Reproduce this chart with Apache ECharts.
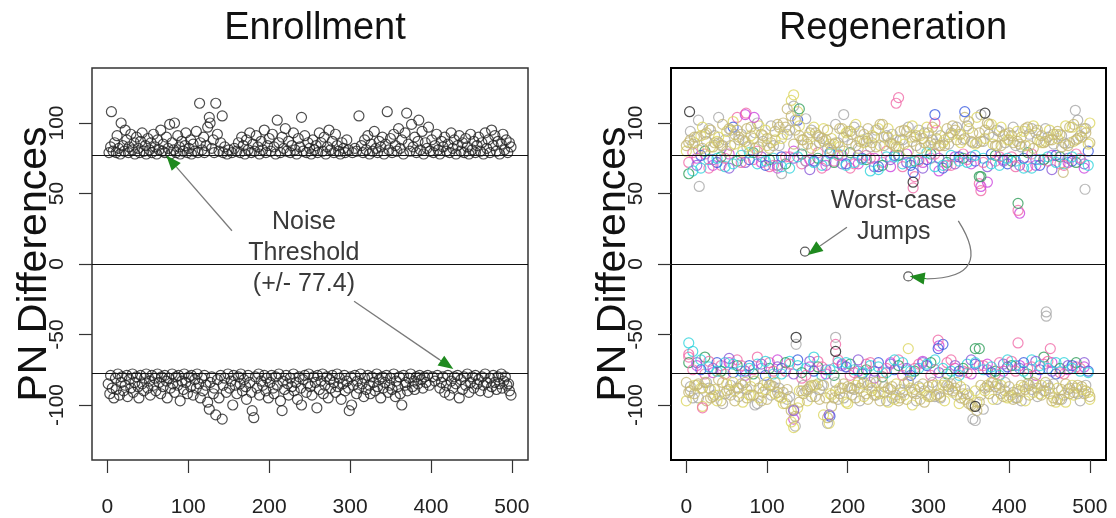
<!DOCTYPE html>
<html>
<head>
<meta charset="utf-8">
<script src="https://cdn.jsdelivr.net/npm/echarts@6/dist/echarts.min.js"></script>
<style>
  html, body { margin: 0; padding: 0; background: #fff; }
  #chart { width: 1116px; height: 518px; }
</style>
</head>
<body>
<div id="chart"></div>
<script>
// tick labels
const xTicks = [0, 100, 200, 300, 400, 500]
const yTicks = [-100, -50, 0, 50, 100]
const threshold = 77.4

// Enrollment: [index, PN difference]
const enrollUpper = [
  [2,79],[4,83],[5,108],[7,80],[9,86],[11,79],[12,91],[14,82],[16,78],[17,100],[19,84],[21,80],[22,95],[24,88],[26,79],[27,83],[29,92],[31,81],[33,86],[34,78],[36,90],[38,82],[40,79],[41,87],[43,93],[45,80],[47,84],[48,78],[50,89],
  [52,81],[54,86],[55,79],[57,92],[59,83],[61,78],[62,88],[64,81],[66,95],[68,80],[69,85],[71,79],[73,90],[75,82],[77,99],[78,78],[80,86],[82,81],[83,100],[85,79],[87,91],[89,83],[90,78],[92,87],[94,80],[96,84],[97,93],[99,79],
  [101,82],[103,88],[104,78],[106,85],[108,80],[110,94],[112,79],[114,114],[115,86],[117,81],[119,90],[120,79],[122,84],[124,97],[126,104],[127,100],[129,82],[131,88],[132,79],[134,114],[136,92],[138,80],[140,86],[142,105],[143,79],[145,83],[148,78],[150,81],
  [154,79],[157,82],[160,80],[162,86],[164,79],[166,90],[168,84],[170,78],[172,88],[174,81],[176,93],[178,79],[180,85],[182,80],[184,91],[186,83],[188,78],[190,87],[192,81],[194,95],[196,79],[198,84],[200,89],
  [202,80],[204,92],[206,83],[208,78],[210,102],[212,86],[214,79],[216,90],[218,82],[220,96],[222,80],[224,87],[226,79],[228,84],[230,93],[232,81],[234,78],[236,89],[238,83],[240,104],[242,80],[244,91],[246,79],[248,86],[250,82],
  [252,78],[254,88],[256,81],[258,84],[260,79],[262,93],[264,86],[266,80],[268,90],[270,78],[272,83],[274,95],[276,81],[278,87],[280,79],[282,92],[284,84],[286,80],[288,78],[290,86],[292,82],[294,79],[296,88],[298,81],
  [303,79],[306,82],[308,80],[311,105],[314,84],[316,79],[318,88],[320,81],[322,91],[324,78],[326,85],[328,80],[330,94],[332,82],[334,79],[336,87],[338,83],[340,90],[342,78],[344,85],[346,108],[348,81],[350,89],
  [352,79],[354,92],[356,84],[358,80],[360,96],[362,82],[364,88],[366,78],[368,93],[370,107],[372,85],[374,80],[376,99],[378,83],[380,90],[382,79],[384,87],[385,102],[387,81],[389,94],[391,78],[393,86],[395,82],[397,97],[399,80],
  [401,88],[403,79],[405,84],[407,92],[409,81],[411,78],[413,87],[415,83],[417,90],[419,80],[421,85],[423,79],[425,93],[427,82],[429,88],[431,78],[433,84],[435,91],[437,80],[439,86],[441,79],[443,89],[445,83],[447,78],[449,92],
  [451,81],[453,87],[455,79],[457,84],[459,90],[461,80],[463,86],[465,78],[467,93],[469,82],[471,88],[473,79],[475,95],[477,84],[479,91],[481,80],[483,87],[485,78],[487,85],[489,92],[491,81],[493,88],[495,79],[497,86],[499,83]
]
const enrollLower = [
  [1,-85],[3,-92],[4,-79],[6,-88],[8,-95],[10,-81],[11,-89],[13,-78],[15,-93],[17,-84],[18,-80],[20,-90],[22,-86],[24,-79],[25,-94],[27,-82],[29,-88],[31,-78],[32,-91],[34,-84],[36,-80],[38,-87],[39,-95],[41,-79],[43,-85],[45,-90],[46,-81],[48,-78],[50,-88],
  [52,-83],[53,-93],[55,-79],[57,-86],[59,-81],[60,-90],[62,-78],[64,-84],[66,-92],[67,-80],[69,-87],[71,-79],[73,-83],[74,-95],[76,-81],[78,-88],[80,-78],[81,-85],[83,-91],[85,-80],[87,-86],[88,-79],[90,-97],[92,-83],[94,-89],[95,-78],[97,-84],[99,-92],
  [101,-80],[103,-87],[104,-79],[106,-93],[108,-82],[110,-88],[111,-78],[113,-85],[115,-95],[117,-81],[118,-90],[120,-79],[122,-86],[124,-98],[126,-103],[127,-84],[129,-80],[131,-92],[132,-88],[134,-107],[136,-82],[138,-95],[140,-79],[142,-110],[143,-86],[145,-81],[147,-91],[149,-78],
  [151,-88],[153,-83],[155,-100],[156,-79],[158,-86],[160,-92],[162,-80],[164,-85],[165,-78],[167,-90],[169,-82],[171,-87],[172,-96],[174,-79],[176,-84],[178,-91],[179,-104],[181,-109],[183,-80],[185,-88],[187,-78],[188,-93],[190,-83],[192,-86],[194,-79],[196,-90],[197,-81],[199,-95],
  [201,-84],[203,-79],[205,-88],[206,-92],[208,-80],[210,-86],[212,-78],[214,-97],[216,-104],[217,-83],[219,-89],[221,-79],[223,-85],[224,-93],[226,-81],[228,-87],[230,-78],[231,-90],[233,-84],[235,-96],[237,-80],[239,-88],[240,-100],[242,-82],[244,-79],[246,-91],[248,-85],[249,-78],
  [251,-87],[253,-93],[255,-80],[257,-84],[259,-102],[260,-79],[262,-89],[264,-83],[266,-78],[267,-92],[269,-86],[271,-80],[273,-95],[275,-82],[276,-88],[278,-79],[280,-84],[282,-91],[284,-78],[285,-87],[287,-81],[289,-96],[291,-85],[293,-79],[294,-90],[296,-83],[298,-88],
  [299,-104],[301,-80],[302,-100],[304,-86],[306,-79],[308,-92],[309,-83],[311,-88],[313,-78],[315,-85],[317,-94],[318,-81],[320,-89],[322,-79],[324,-86],[325,-92],[327,-80],[329,-84],[331,-90],[333,-78],[334,-87],[336,-82],[338,-95],[340,-80],[341,-88],[343,-84],[345,-79],[347,-91],[349,-86],[350,-81],
  [352,-89],[354,-78],[356,-94],[357,-83],[359,-87],[361,-80],[362,-92],[364,-100],[366,-79],[368,-86],[369,-84],[371,-90],[373,-81],[375,-78],[377,-87],[379,-83],[380,-89],[382,-80],[384,-85],[386,-79],[388,-82],[390,-88],[392,-80],[394,-84],[396,-79],[398,-86],
  [402,-80],[405,-83],[408,-79],[411,-88],[413,-84],[415,-80],[417,-91],[419,-86],[421,-79],[423,-93],[425,-83],[427,-88],[429,-80],[431,-85],[433,-79],[435,-95],[437,-82],[439,-89],[441,-80],[443,-86],[445,-78],[447,-91],[449,-84],
  [451,-80],[453,-88],[455,-79],[457,-85],[459,-82],[461,-90],[463,-80],[465,-86],[467,-78],[469,-84],[471,-91],[473,-81],[475,-87],[477,-79],[479,-84],[481,-89],[483,-80],[485,-85],[487,-78],[488,-88],[490,-83],[492,-80],[494,-86],[496,-85],[497,-90],[499,-93]
]

// Regeneration: index grids shared by the regeneration runs
const regenXA = [0,10,20,30,40,50,60,70,80,90,100,110,120,130,140,150,160,170,180,190,200,210,220,230,240,250,260,270,280,290,300,310,320,330,340,350,360,370,380,390,400,410,420,430,440,450,460,470,480,490,500]
const regenXB = [5,15,25,35,45,55,65,75,85,95,105,115,125,135,145,155,165,175,185,195,205,215,225,235,245,255,265,275,285,295,305,315,325,335,345,355,365,375,385,395,405,415,425,435,445,455,465,475,485,495]
const regenXC = [3,23,43,63,83,103,123,143,163,183,203,223,243,263,283,303,323,343,363,383,403,423,443,463,483]
const regenXD = [13,33,53,73,93,113,133,153,173,193,213,233,253,273,293,313,333,353,373,393,413,433,453,473,493]
const regenXE = [8,28,48,68,88,108,128,148,168,188,208,228,248,268,288,308,328,348,368,388,408,428,448,468,488]
const regenXF = [18,38,58,78,98,118,138,158,178,198,218,238,258,278,298,318,338,358,378,398,418,438,458,478,498]

// upper band runs
const tanUpA = [84,90,82,95,86,80,92,88,97,83,89,94,100,105,91,85,93,87,81,96,88,84,92,86,99,90,83,95,87,82,93,89,84,98,92,101,86,95,90,84,93,87,96,82,91,88,94,85,99,90,86]
const tanUpB = [88,81,93,86,99,84,90,96,82,91,86,97,110,95,88,82,90,95,86,80,92,87,96,83,90,85,94,80,91,86,97,84,90,88,104,93,87,99,84,92,86,90,84,95,87,92,83,97,89,93]
const yellowUpA = [80,86,97,83,90,94,85,80,91,98,84,88,92,116,98,90,84,96,89,83,94,99,86,91,84,96,88,85,98,91,84,95,88,92,86,96,104,89,85,97,88,94,84,98,86,95,89,98,87,94,100]
const greyUpB = [94,102,87,91,84,95,88,83,93,87,98,84,92,102,84,95,86,82,99,90,85,94,89,95,84,92,88,97,84,93,88,91,85,97,89,86,106,92,95,86,97,83,92,88,96,85,91,86,102,96]
const tanUpC = [86,92,84,95,89,82,97,88,91,85,94,87,99,83,90,86,96,88,93,84,91,97,86,92,88]
const tanUpD = [90,83,96,87,92,99,85,93,88,96,82,90,86,94,89,84,95,87,100,91,85,93,88,84,96]
const greyUpE = [85,96,88,92,100,84,95,103,89,86,97,83,91,88,95,85,93,98,87,94,84,96,90,86,91]
const yellowUpF = [91,87,101,84,95,89,108,97,85,93,88,96,84,90,97,86,92,85,99,88,94,87,92,97,85]
const pinkUp = [72,78,70,104,74,69,76,71,79,73,68,77,72,118,62,75,70,78,57,73,76,69,74,71,78]
const magentaUp = [75,70,78,106,72,68,80,74,70,77,71,75,69,78,72,66,76,71,58,74,36,70,77,72,68]
const cyanUp = [66,74,69,77,71,75,68,73,70,78,72,66,76,71,74,69,77,72,75,70,73,68,76,71,74]
const blueUp = [77,72,97,74,70,76,102,73,79,71,75,69,77,70,74,68,76,73,78,71,75,70,77,73,80]
const greenUp = [64,80,76,73,79,74,71,78,75,72,79,74,70,77,73,78,72,75,62,77,73,79,74,76,72]
const purpleUp = [70,74,68,72,76,70,75,67,73,71,77,69,74,72,68,75,71,76,69,73,70,74,67,75,71]
const pinkUp2 = [79,68,75,72,80,70,76,73,68,77,71,75,80,69,73,78,70,74,72,76,69,78,73,70,75]
const cyanUp2 = [68,75,71,79,73,69,76,72,78,70,74,67,76,72,79,70,73,77,71,75,68,74,72,76,70]

// lower band runs
const tanLoA = [-84,-92,-88,-95,-82,-90,-97,-86,-93,-88,-96,-84,-91,-104,-98,-89,-94,-86,-101,-92,-87,-95,-84,-90,-97,-88,-93,-85,-91,-96,-87,-93,-84,-90,-95,-99,-104,-88,-84,-92,-87,-95,-89,-84,-93,-88,-96,-85,-91,-87,-94]
const tanLoB = [-90,-85,-97,-89,-84,-93,-88,-95,-83,-91,-86,-94,-89,-108,-92,-86,-96,-109,-90,-85,-93,-88,-96,-84,-91,-87,-95,-83,-92,-98,-86,-94,-89,-84,-96,-101,-86,-92,-85,-90,-96,-86,-93,-88,-84,-95,-89,-92,-86,-90]
const yellowLoA = [-97,-86,-101,-89,-93,-85,-90,-98,-87,-95,-84,-92,-99,-112,-90,-97,-86,-107,-93,-88,-99,-86,-94,-88,-92,-98,-85,-93,-100,-88,-94,-86,-97,-91,-87,-93,-98,-90,-96,-86,-94,-89,-97,-91,-86,-92,-88,-98,-93,-89,-96]
const greyLoB = [-87,-95,-84,-93,-99,-86,-94,-89,-100,-86,-93,-88,-96,-115,-86,-94,-89,-113,-84,-95,-88,-97,-86,-93,-87,-95,-89,-84,-97,-90,-84,-95,-87,-93,-89,-110,-93,-87,-96,-84,-91,-97,-86,-94,-90,-85,-96,-88,-92,-86]
const tanLoC = [-91,-84,-97,-88,-93,-86,-99,-90,-85,-95,-88,-92,-84,-97,-89,-94,-86,-92,-98,-87,-93,-85,-90,-96,-88]
const tanLoD = [-86,-94,-89,-84,-97,-91,-103,-87,-95,-88,-84,-93,-89,-96,-85,-92,-88,-100,-86,-94,-90,-85,-97,-89,-92]
const greyLoE = [-95,-88,-92,-85,-99,-87,-94,-90,-86,-96,-89,-84,-97,-91,-87,-94,-85,-92,-103,-88,-95,-89,-86,-93,-97]
const yellowLoF = [-88,-97,-84,-93,-89,-95,-102,-86,-92,-98,-85,-91,-96,-88,-93,-86,-99,-90,-84,-95,-87,-92,-98,-86,-91]
const pinkLo = [-64,-78,-72,-68,-75,-70,-76,-81,-69,-74,-79,-71,-77,-68,-74,-79,-70,-76,-72,-78,-69,-74,-71,-77,-73]
const magentaLo = [-72,-77,-70,-79,-74,-68,-110,-73,-78,-71,-76,-81,-70,-75,-69,-58,-74,-78,-71,-76,-72,-79,-70,-75,-73]
const cyanLo = [-62,-73,-70,-76,-71,-78,-69,-74,-79,-70,-75,-72,-77,-70,-74,-68,-76,-71,-75,-79,-72,-68,-74,-70,-76]
const blueLo = [-75,-70,-77,-72,-79,-74,-68,-76,-108,-73,-78,-70,-75,-79,-72,-57,-76,-71,-77,-73,-70,-75,-78,-72,-76]
const greenLo = [-70,-66,-76,-72,-78,-74,-70,-77,-73,-79,-71,-75,-80,-72,-76,-70,-78,-74,-60,-76,-72,-78,-66,-74,-70]
const purpleLo = [-70,-74,-67,-76,-71,-73,-78,-69,-75,-72,-68,-76,-71,-74,-70,-77,-72,-68,-75,-71,-74,-69,-76,-72,-70]
const pinkLo2 = [-75,-69,-78,-72,-66,-76,-71,-79,-73,-68,-77,-70,-74,-79,-71,-75,-68,-77,-72,-70,-76,-73,-69,-78,-74]
const cyanLo2 = [-68,-76,-71,-74,-69,-78,-72,-66,-75,-70,-77,-73,-68,-76,-71,-74,-79,-70,-73,-68,-76,-72,-70,-74,-77]

// single runs that stand out: [index, value, run colour]
const regenOutliers = [
  [4,108,'black'],[16,55,'grey'],[118,64,'grey'],[133,120,'yellow'],[133,112,'grey'],[260,114,'pink'],
  [281,65,'blue'],[281,58,'black'],[281,54,'pink'],[308,106,'blue'],[308,100,'pink'],[365,62,'green'],
  [365,55,'magenta'],[365,52,'pink'],[411,43,'green'],[411,38,'pink'],[494,53,'grey'],[467,65,'tan'],
  [482,109,'grey'],[370,107,'black'],[345,108,'blue'],[74,107,'pink'],[84,104,'magenta'],[40,104,'grey'],
  [140,110,'green'],[195,106,'grey'],
  [136,-52,'black'],[136,-57,'grey'],[185,-52,'grey'],[185,-57,'pink'],[185,-62,'black'],[446,-34,'grey'],
  [446,-37,'grey'],[451,-60,'pink'],[411,-56,'pink'],[312,-54,'pink'],[312,-60,'blue'],[358,-60,'green'],
  [275,-60,'yellow'],[358,-101,'black'],[358,-111,'grey'],[133,-104,'purple'],[133,-116,'yellow'],
  [177,-107,'purple'],[177,-113,'yellow'],[20,-102,'pink'],[3,-56,'cyan'],[3,-66,'pink']
]
const worstJumps = [[147,8.8],[275,-8.8]]

const runColors = {
  tan: '#c4b674', yellow: '#dcd660', grey: '#a8a8a8', pink: '#f06aa8', magenta: '#cc44dd',
  cyan: '#2fd3dc', blue: '#3a5ae0', green: '#2f9e5a', black: '#222222', purple: '#8a5ad8'
}

const font = "'Liberation Sans', Arial, sans-serif"

function zip(xs, ys) {
  return xs.map((x, i) => [x, ys[i]])
}

function circles(gridIndex, data, color, size) {
  return {
    type: 'scatter',
    xAxisIndex: gridIndex,
    yAxisIndex: gridIndex,
    data: data,
    symbol: 'circle',
    symbolSize: size || 10,
    itemStyle: { color: 'transparent', borderColor: color, borderWidth: 1.2 },
    silent: true,
    z: 2
  }
}

// straight reference lines and arrow heads, in data coordinates
function lines(gridIndex, data, style, symbols) {
  return {
    type: 'scatter',
    xAxisIndex: gridIndex,
    yAxisIndex: gridIndex,
    data: [],
    silent: true,
    z: 5,
    markLine: {
      silent: true,
      animation: false,
      symbol: symbols || ['none', 'none'],
      symbolSize: [12, 15],
      label: { show: false },
      lineStyle: Object.assign({ type: 'solid' }, style),
      data: data
    }
  }
}

// curved arrow shaft
function curve(gridIndex, from, to, curveness) {
  return {
    type: 'lines',
    coordinateSystem: 'cartesian2d',
    xAxisIndex: gridIndex,
    yAxisIndex: gridIndex,
    silent: true,
    z: 5,
    symbol: 'none',
    lineStyle: { color: '#7a7a7a', width: 1.3, opacity: 1, curveness: curveness },
    data: [{ coords: [from, to] }]
  }
}

function textLabel(gridIndex, coord, text) {
  return {
    type: 'scatter',
    xAxisIndex: gridIndex,
    yAxisIndex: gridIndex,
    data: [],
    silent: true,
    z: 6,
    markPoint: {
      silent: true,
      animation: false,
      symbol: 'circle',
      symbolSize: 1,
      itemStyle: { color: 'transparent' },
      label: {
        show: true, position: 'inside', color: '#3a3a3a', fontSize: 25, lineHeight: 31,
        fontFamily: font, align: 'center', verticalAlign: 'middle', formatter: text
      },
      data: [{ coord: coord }]
    }
  }
}

const shaft = { color: '#7a7a7a', width: 1.3 }
const head = { color: '#1f8a1f', width: 1 }
const thresholdLines = [{ yAxis: threshold }, { yAxis: 0 }, { yAxis: -threshold }]

const series = [
  circles(0, enrollUpper, '#222'),
  circles(0, enrollLower, '#222'),
  lines(0, thresholdLines, { color: '#111', width: 1.2 }),
  lines(0, [
    [{ coord: [154, 23.6] }, { coord: [86, 68.3] }],
    [{ coord: [305, -26.4] }, { coord: [411, -68.0] }]
  ], shaft),
  lines(0, [
    [{ coord: [86, 68.3] }, { coord: [79, 72.9] }],
    [{ coord: [411, -68.0] }, { coord: [420, -71.5] }]
  ], head, ['none', 'triangle']),
  textLabel(0, [243, 8], 'Noise\nThreshold\n(+/- 77.4)'),

  circles(1, zip(regenXC, pinkUp), runColors.pink),
  circles(1, zip(regenXD, magentaUp), runColors.magenta),
  circles(1, zip(regenXE, cyanUp), runColors.cyan),
  circles(1, zip(regenXF, blueUp), runColors.blue),
  circles(1, zip(regenXC, greenUp), runColors.green),
  circles(1, zip(regenXD, purpleUp), runColors.purple),
  circles(1, zip(regenXE, pinkUp2), runColors.pink),
  circles(1, zip(regenXF, cyanUp2), runColors.cyan),
  circles(1, zip(regenXC, pinkLo), runColors.pink),
  circles(1, zip(regenXD, magentaLo), runColors.magenta),
  circles(1, zip(regenXE, cyanLo), runColors.cyan),
  circles(1, zip(regenXF, blueLo), runColors.blue),
  circles(1, zip(regenXC, greenLo), runColors.green),
  circles(1, zip(regenXD, purpleLo), runColors.purple),
  circles(1, zip(regenXE, pinkLo2), runColors.pink),
  circles(1, zip(regenXF, cyanLo2), runColors.cyan),
  circles(1, zip(regenXB, greyUpB), runColors.grey),
  circles(1, zip(regenXE, greyUpE), runColors.grey),
  circles(1, zip(regenXB, greyLoB), runColors.grey),
  circles(1, zip(regenXE, greyLoE), runColors.grey),
  circles(1, zip(regenXA, yellowUpA), runColors.yellow),
  circles(1, zip(regenXF, yellowUpF), runColors.yellow),
  circles(1, zip(regenXA, yellowLoA), runColors.yellow),
  circles(1, zip(regenXF, yellowLoF), runColors.yellow),
  circles(1, zip(regenXA, tanUpA), runColors.tan),
  circles(1, zip(regenXB, tanUpB), runColors.tan),
  circles(1, zip(regenXC, tanUpC), runColors.tan),
  circles(1, zip(regenXD, tanUpD), runColors.tan),
  circles(1, zip(regenXA, tanLoA), runColors.tan),
  circles(1, zip(regenXB, tanLoB), runColors.tan),
  circles(1, zip(regenXC, tanLoC), runColors.tan),
  circles(1, zip(regenXD, tanLoD), runColors.tan)
]
Object.keys(runColors).forEach(c => {
  const pts = regenOutliers.filter(p => p[2] === c).map(p => [p[0], p[1]])
  if (pts.length) series.push(circles(1, pts, runColors[c]))
})
series.push(circles(1, worstJumps, '#333', 9))
series.push(lines(1, thresholdLines, { color: '#111', width: 1.2 }))
series.push(lines(1, [[{ coord: [199, 26] }, { coord: [166, 12.9] }]], shaft))
series.push(curve(1, [337, 30.6], [298, -10.5], 0.9))
series.push(lines(1, [
  [{ coord: [166, 12.9] }, { coord: [158, 9.5] }],
  [{ coord: [298, -10.5] }, { coord: [286, -9.5] }]
], head, ['none', 'triangle']))
series.push(textLabel(1, [257, 33.8], 'Worst-case\nJumps'))

function xAxis(i) {
  return {
    type: 'value', gridIndex: i, min: -19, max: 520,
    axisLine: { show: false, onZero: false },
    splitLine: { show: false },
    axisTick: { show: true, customValues: xTicks, length: 13, lineStyle: { color: '#333', width: 1.2 } },
    axisLabel: { customValues: xTicks, fontSize: 21, color: '#222', margin: 37, fontFamily: font }
  }
}
function yAxis(i) {
  return {
    type: 'value', gridIndex: i, min: -139, max: 139,
    name: 'PN Differences', nameLocation: 'middle', nameRotate: 90, nameGap: 37,
    nameMoveOverlap: false,
    nameTextStyle: { fontSize: 41, color: '#111', fontFamily: font },
    axisLine: { show: false, onZero: false },
    splitLine: { show: false },
    axisTick: { show: true, customValues: yTicks, length: 13, lineStyle: { color: '#333', width: 1.2 } },
    axisLabel: { customValues: yTicks, rotate: 90, fontSize: 21, color: '#222', margin: 24, fontFamily: font }
  }
}

const chart = echarts.init(document.getElementById('chart'))
chart.setOption({
  animation: false,
  backgroundColor: '#fff',
  title: [
    { text: 'Enrollment', left: 310, top: 5, textAlign: 'center',
      textStyle: { fontSize: 38, fontWeight: 'normal', color: '#111', fontFamily: font } },
    { text: 'Regeneration', left: 888, top: 5, textAlign: 'center',
      textStyle: { fontSize: 38, fontWeight: 'normal', color: '#111', fontFamily: font } }
  ],
  grid: [
    { left: 92, top: 68, width: 436, height: 395, show: true, borderColor: '#333', borderWidth: 1.5, backgroundColor: 'transparent' },
    { left: 671, top: 68, width: 435, height: 395, show: true, borderColor: '#000', borderWidth: 2, backgroundColor: 'transparent' }
  ],
  xAxis: [xAxis(0), xAxis(1)],
  yAxis: [yAxis(0), yAxis(1)],
  series: series
})
</script>
</body>
</html>
